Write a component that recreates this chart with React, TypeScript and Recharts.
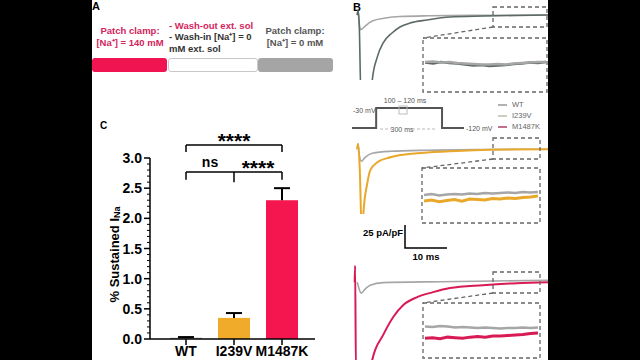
import React from 'react';
import { BarChart, Bar, XAxis, YAxis, ReferenceLine, LineChart, Line, Cell } from 'recharts';

const FONT = '"Liberation Sans", Arial, Helvetica, sans-serif';

// ---- panel C: % sustained I_Na ----
const genotypes = ['WT', 'I239V', 'M1487K'];
const sustained = [0.02, 0.35, 2.3];
const sustainedSem = [0.012, 0.08, 0.2];
const barColors = ['#9a9a9a', '#f0ab2a', '#f5164f'];
const yTicks = [0, 0.1, 0.2, 0.3, 0.4, 0.5, 0.6, 0.7, 0.8, 0.9, 1.0, 1.1, 1.2, 1.3, 1.4, 1.5, 1.6, 1.7, 1.8, 1.9, 2.0, 2.1, 2.2, 2.3, 2.4, 2.5, 2.6, 2.7, 2.8, 2.9, 3.0];

// ---- panel B: current traces (t in ms, v in pA/pF) ----
const topWT = [
  { t: 0, v: 0 }, { t: 0.2, v: 4 }, { t: 0.5, v: -10 }, { t: 0.8, v: -16 }, { t: 1.2, v: -15 },
  { t: 1.9, v: -12 }, { t: 3.6, v: -6.5 }, { t: 6.7, v: -3.3 }, { t: 10.2, v: -1.6 },
  { t: 17, v: -0.8 }, { t: 30, v: -0.3 }, { t: 45.5, v: 0 },
];
const topWT2 = [
  { t: 0, v: 0 }, { t: 0.2, v: 5 }, { t: 0.5, v: -12 }, { t: 0.9, v: -90 }, { t: 3.4, v: -90 },
  { t: 3.6, v: -70.7 }, { t: 4.8, v: -45.7 }, { t: 6.2, v: -30.4 }, { t: 8.3, v: -19.6 },
  { t: 10.2, v: -13 }, { t: 12.6, v: -8.7 }, { t: 16.7, v: -5.4 }, { t: 22.1, v: -2.2 },
  { t: 30, v: -1.1 }, { t: 38, v: -0.4 }, { t: 45.5, v: 0 },
];
const midWT = [
  { t: 0, v: 0 }, { t: 0.2, v: 6 }, { t: 0.5, v: -6 }, { t: 1, v: -13 }, { t: 1.9, v: -8.7 },
  { t: 3.6, v: -4.3 }, { t: 7.9, v: -2.2 }, { t: 17, v: -1 }, { t: 30, v: -0.3 }, { t: 45.5, v: 0 },
];
const midI239V = [
  { t: 0, v: 0 }, { t: 0.2, v: 6 }, { t: 0.6, v: -20 }, { t: 1.1, v: -90 }, { t: 1.3, v: -90 },
  { t: 1.5, v: -68 }, { t: 2.4, v: -37 }, { t: 3.1, v: -22.8 }, { t: 4.8, v: -14.1 },
  { t: 7.9, v: -8.7 }, { t: 14.3, v: -4.3 }, { t: 22.1, v: -2.2 }, { t: 31.7, v: -0.5 }, { t: 45.5, v: 0 },
];
const botWT = [
  { t: 0, v: 0 }, { t: 0.3, v: -5 }, { t: 0.95, v: -12 }, { t: 2, v: -7 }, { t: 3.1, v: -3.3 },
  { t: 6.2, v: -0.5 }, { t: 20, v: 0.5 }, { t: 45.5, v: 2 },
];
const botM1487K = [
  { t: -0.6, v: 0 }, { t: -0.5, v: 18 }, { t: -0.3, v: -95 }, { t: 3.4, v: -95 }, { t: 3.6, v: -84.8 },
  { t: 6.2, v: -57.6 }, { t: 8.6, v: -38 }, { t: 11, v: -25 }, { t: 14.3, v: -16.3 },
  { t: 18.1, v: -10.9 }, { t: 22.1, v: -6.5 }, { t: 30, v: -3.3 }, { t: 38, v: -1.1 }, { t: 45.5, v: 0 },
];

// zoomed insets (arbitrary units)
const topInsetA = [5.5, 5.3, 5.6, 5.4, 5.3, 5.1, 4.9, 5.0, 4.8, 4.9, 5.0, 5.2, 5.3, 5.5, 5.4, 5.6];
const topInsetB = [5.6, 5.7, 5.5, 5.6, 5.4, 5.3, 5.2, 5.1, 5.1, 5.2, 5.1, 5.3, 5.4, 5.5, 5.6, 5.6];
const midInsetWT = [5.1, 5.3, 5.0, 5.2, 5.3, 5.2, 5.4, 5.3, 5.5, 5.4, 5.5, 5.6, 5.5, 5.7, 5.6, 5.7];
const midInsetI239V = [3.9, 4.1, 3.8, 4.0, 4.2, 3.9, 4.3, 4.2, 4.1, 4.4, 4.3, 4.5, 4.4, 4.6, 4.7, 4.9];
const botInsetWT = [5.8, 5.7, 5.9, 5.8, 5.6, 5.7, 5.6, 5.5, 5.6, 5.5, 5.4, 5.5, 5.5, 5.6, 5.5, 5.6];
const botInsetM1487K = [3.5, 3.6, 3.4, 3.7, 3.6, 3.5, 3.7, 3.8, 3.7, 3.9, 3.9, 4.0, 4.1, 4.2, 4.4, 4.5];

// voltage protocol
const protoT = [-110, 0, 0, 300, 300, 400];
const protoV = [-120, -120, -30, -30, -120, -120];

const GRAY = '#a6a6a6';
const DARK = '#5d6a64';
const ORANGE = '#e9a82a';
const RED = '#d81b55';

const barData = genotypes.map((g, i) => ({ name: g, value: sustained[i], err: sustainedSem[i] }));
const protoData = protoT.map((t, i) => ({ t, v: protoV[i] }));
const toSeries = (arr: number[]) => arr.map((v, i) => ({ t: i, v }));

const T = ({ x, y, children, size = 9.5, color = '#000', weight = 'bold', anchor = 'start' }: any) => (
  <div
    style={{
      position: 'absolute', left: x, top: y, fontFamily: FONT, fontSize: size, color, fontWeight: weight,
      whiteSpace: 'nowrap', lineHeight: 1,
      transform: `translate(${anchor === 'middle' ? '-50%' : anchor === 'end' ? '-100%' : '0'}, -50%)`,
    }}
  >
    {children}
  </div>
);

const TraceChart = ({ left, top, width, height, xDomain, yDomain, series }: any) => (
  <div style={{ position: 'absolute', left, top }}>
    <LineChart width={width} height={height} margin={{ top: 0, right: 0, bottom: 0, left: 0 }}>
      <XAxis type="number" dataKey="t" domain={xDomain} hide allowDataOverflow />
      <YAxis type="number" dataKey="v" domain={yDomain} hide allowDataOverflow />
      {series.map((s: any, i: number) => (
        <Line key={i} data={s.data} dataKey="v" type={s.type || 'monotone'} stroke={s.color}
          strokeWidth={s.w || 1.6} dot={false} isAnimationActive={false} />
      ))}
    </LineChart>
  </div>
);

const YTick = (p: any) => {
  const { x, y, payload } = p;
  const v = payload.value;
  const major = Math.round(v * 10) % 5 === 0;
  return (
    <g>
      <line x1={x} x2={x - (major ? 6 : 3)} y1={y} y2={y} stroke="#000" strokeWidth={major ? 1.5 : 1} />
      {major && (
        <text x={x - 8} y={y} textAnchor="end" dominantBaseline="central" fontSize={14} fontWeight="bold"
          fontFamily={FONT} fill="#000">{v.toFixed(1)}</text>
      )}
    </g>
  );
};

const BarWithErr = (p: any) => {
  const { x, y, width, height, payload, fill } = p;
  const ppu = payload.value ? height / payload.value : 0;
  const cx = x + width / 2;
  const top = y - payload.err * ppu;
  return (
    <g>
      <rect x={x} y={y} width={width} height={height} fill={fill} />
      <line x1={cx} x2={cx} y1={y} y2={top} stroke="#000" strokeWidth={2} />
      <line x1={cx - 8} x2={cx + 8} y1={top} y2={top} stroke="#000" strokeWidth={2} />
    </g>
  );
};

const YLabel = (p: any) => {
  const vb = p.viewBox || { x: 0, y: 48, width: 58, height: 181 };
  const cx = vb.x + 22;
  const cy = vb.y + vb.height / 2 + 6;
  return (
    <text transform={`rotate(-90 ${cx} ${cy})`} x={cx} y={cy} textAnchor="middle" dominantBaseline="central"
      fontSize={13} fontWeight="bold" fontFamily={FONT} fill="#000">
      % Sustained I<tspan fontSize={9} dy={3}>Na</tspan>
    </text>
  );
};

const bracket = { stroke: '#000', strokeWidth: 1.5, ifOverflow: 'visible' as const };

export default function App() {
  return (
    <div style={{ position: 'absolute', left: 0, top: 0, width: 640, height: 360, background: '#000', overflow: 'hidden' }}>
      <div style={{ position: 'absolute', left: 92, top: 0, width: 456, height: 360, background: '#fff' }} />

      {/* Panel A */}
      <T x={92} y={6} size={11}>A</T>
      <T x={130} y={31} color="#d4245c" anchor="middle">Patch clamp:</T>
      <T x={130} y={43} color="#d4245c" anchor="middle">[Na⁺] = 140 mM</T>
      <T x={169} y={26} color="#d4245c">- Wash-out ext. sol</T>
      <T x={169} y={37} color="#333">- Wash-in [Na⁺] = 0</T>
      <T x={169} y={49} color="#333">mM ext. sol</T>
      <T x={295} y={31} color="#555" anchor="middle">Patch clamp:</T>
      <T x={295} y={43} color="#555" anchor="middle">[Na⁺] = 0 mM</T>
      <div style={{ position: 'absolute', left: 92, top: 58, width: 75, height: 14, background: '#f01450', borderRadius: 3 }} />
      <div style={{ position: 'absolute', left: 168, top: 58, width: 88, height: 12, border: '1px solid #c8c8c8', borderRadius: 3, background: '#fff' }} />
      <div style={{ position: 'absolute', left: 258, top: 58, width: 75, height: 14, background: '#a5a5a5', borderRadius: 3 }} />

      {/* Panel C */}
      <T x={100} y={126} size={10}>C</T>
      <div style={{ position: 'absolute', left: 92, top: 110 }}>
        <BarChart width={240} height={250} data={barData} margin={{ top: 48, right: 17, bottom: 0, left: 0 }}>
          <XAxis dataKey="name" height={21} interval={0} padding={{ left: 12, right: 9 }} axisLine={{ stroke: '#000', strokeWidth: 1.5 }}
            tickLine={{ stroke: '#000', strokeWidth: 1.5 }} tickSize={6} tickMargin={1}
            tick={{ fill: '#000', fontSize: 14, fontWeight: 'bold', fontFamily: FONT }} />
          <YAxis width={58} domain={[0, 3]} ticks={yTicks} interval={0} tickSize={0} tickMargin={0} tickLine={false}
            axisLine={{ stroke: '#000', strokeWidth: 1.5 }} tick={<YTick />} label={{ content: <YLabel /> }} />
          <Bar dataKey="value" barSize={32} isAnimationActive={false} shape={<BarWithErr />}>
            {barData.map((d, i) => <Cell key={d.name} fill={barColors[i]} />)}
          </Bar>
          <ReferenceLine segment={[{ x: 'WT', y: 3.216 }, { x: 'M1487K', y: 3.216 }]} {...bracket}
            label={{ value: '****', position: 'top', offset: -3, fontSize: 21, fontWeight: 'bold', fill: '#000', fontFamily: FONT }} />
          <ReferenceLine segment={[{ x: 'WT', y: 3.216 }, { x: 'WT', y: 3.1 }]} {...bracket} />
          <ReferenceLine segment={[{ x: 'M1487K', y: 3.216 }, { x: 'M1487K', y: 3.1 }]} {...bracket} />
          <ReferenceLine segment={[{ x: 'WT', y: 2.77 }, { x: 'I239V', y: 2.77 }]} {...bracket}
            label={{ value: 'ns', position: 'top', offset: 5, fontSize: 14, fontWeight: 'bold', fill: '#000', fontFamily: FONT }} />
          <ReferenceLine segment={[{ x: 'WT', y: 2.77 }, { x: 'WT', y: 2.64 }]} {...bracket} />
          <ReferenceLine segment={[{ x: 'I239V', y: 2.77 }, { x: 'I239V', y: 2.6 }]} {...bracket} />
          <ReferenceLine segment={[{ x: 'I239V', y: 2.77 }, { x: 'M1487K', y: 2.77 }]} {...bracket}
            label={{ value: '****', position: 'top', offset: -3, fontSize: 21, fontWeight: 'bold', fill: '#000', fontFamily: FONT }} />
          <ReferenceLine segment={[{ x: 'M1487K', y: 2.77 }, { x: 'M1487K', y: 2.64 }]} {...bracket} />
        </BarChart>
      </div>

      {/* Panel B */}
      <T x={353} y={7} size={11}>B</T>
      <TraceChart left={353} top={5} width={195} height={75} xDomain={[-1, 45.5]} yDomain={[-71, 11]}
        series={[{ data: topWT, color: GRAY }, { data: topWT2, color: DARK }]} />
      <TraceChart left={353} top={140} width={195} height={74} xDomain={[-1, 45.5]} yDomain={[-70, 10]}
        series={[{ data: midWT, color: GRAY }, { data: midI239V, color: ORANGE, w: 2 }]} />
      <TraceChart left={353} top={262} width={195} height={98} xDomain={[-1, 45.5]} yDomain={[-85, 22]}
        series={[{ data: botWT, color: GRAY }, { data: botM1487K, color: RED, w: 2 }]} />

      <TraceChart left={425} top={40} width={121} height={50} xDomain={[0, 15]} yDomain={[0, 10]}
        series={[{ data: toSeries(topInsetA), color: DARK, w: 2.5, type: 'linear' }, { data: toSeries(topInsetB), color: GRAY, w: 2.5, type: 'linear' }]} />
      <TraceChart left={424} top={170} width={114} height={51} xDomain={[0, 15]} yDomain={[0, 10]}
        series={[{ data: toSeries(midInsetWT), color: GRAY, w: 2.5, type: 'linear' }, { data: toSeries(midInsetI239V), color: ORANGE, w: 3, type: 'linear' }]} />
      <TraceChart left={425} top={305} width={113} height={51} xDomain={[0, 15]} yDomain={[0, 10]}
        series={[{ data: toSeries(botInsetWT), color: GRAY, w: 2.5, type: 'linear' }, { data: toSeries(botInsetM1487K), color: RED, w: 3, type: 'linear' }]} />

      {/* voltage protocol */}
      <TraceChart left={352} top={107} width={112} height={22} xDomain={[-110, 400]} yDomain={[-125, -25]}
        series={[{ data: protoData, color: '#555', w: 2, type: 'linear' }]} />
      <T x={353} y={110} size={7} color="#555" weight="normal">-30 mV</T>
      <T x={466} y={128} size={7} color="#555" weight="normal">-120 mV</T>
      <T x={402} y={129} size={7} color="#555" weight="normal" anchor="middle">300 ms</T>
      <T x={405} y={100} size={7} color="#555" weight="normal" anchor="middle">100 – 120 ms</T>
      <T x={512} y={105} size={7.5} color="#666" weight="normal">WT</T>
      <T x={512} y={116} size={7.5} color="#666" weight="normal">I239V</T>
      <T x={512} y={127} size={7.5} color="#666" weight="normal">M1487K</T>

      {/* scale bar */}
      <T x={363} y={233} size={9.5}>25 pA/pF</T>
      <T x={426} y={257} size={9.5} anchor="middle">10 ms</T>

      <svg width={640} height={360} style={{ position: 'absolute', left: 0, top: 0, pointerEvents: 'none' }}>
        <g fill="none" stroke="#666" strokeWidth={1.3} strokeDasharray="4 3">
          <rect x={493} y={7} width={54} height={20} />
          <rect x={423} y={38} width={124} height={54} />
          <line x1={493} y1={27} x2={423} y2={38} />
          <rect x={493} y={138} width={47} height={21} />
          <rect x={422} y={168} width={118} height={55} />
          <line x1={493} y1={159} x2={422} y2={168} />
          <rect x={493} y={272} width={47} height={21} />
          <rect x={423} y={303} width={117} height={55} />
          <line x1={493} y1={293} x2={423} y2={303} />
        </g>
        <g stroke="#bbb" strokeWidth={1} strokeDasharray="3 2">
          <line x1={380} y1={129} x2={392} y2={129} />
          <line x1={412} y1={129} x2={435} y2={129} />
        </g>
        <rect x={399} y={106} width={8} height={8} fill="none" stroke="#bbb" strokeWidth={1} />
        <line x1={498} y1={105} x2={507} y2={105} stroke="#999" strokeWidth={1.5} />
        <line x1={498} y1={116} x2={507} y2={116} stroke="#b8c0a8" strokeWidth={1.5} />
        <line x1={498} y1={127} x2={507} y2={127} stroke="#b04060" strokeWidth={1.5} />
        <polyline points="405,225 405,248 447,248" fill="none" stroke="#000" strokeWidth={1.5} />
      </svg>
    </div>
  );
}
